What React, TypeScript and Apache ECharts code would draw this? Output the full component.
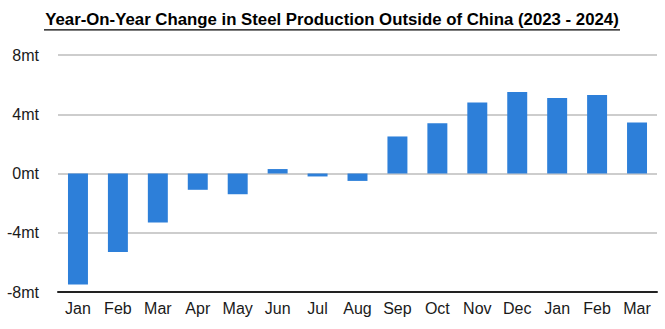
import React, { useEffect, useRef } from "react";
import * as echarts from "echarts";

const categories = ["Jan", "Feb", "Mar", "Apr", "May", "Jun", "Jul", "Aug", "Sep", "Oct", "Nov", "Dec", "Jan", "Feb", "Mar"];
const changeMt = [-7.5, -5.3, -3.3, -1.1, -1.4, 0.3, -0.2, -0.5, 2.5, 3.4, 4.8, 5.5, 5.1, 5.3, 3.45];
const titleText = "Year-On-Year Change in Steel Production Outside of China (2023 - 2024)";

export default function App() {
  const ref = useRef<HTMLDivElement>(null);
  useEffect(() => {
    if (!ref.current) return;
    const chart = echarts.init(ref.current, null, { renderer: "svg" });
    chart.setOption({
      animation: false,
      backgroundColor: "#ffffff",
      textStyle: { fontFamily: "Liberation Sans, Arial, sans-serif" },
      graphic: [
        {
          type: "text",
          x: 332,
          y: 10.5,
          style: {
            text: titleText,
            font: "bold 16.8px 'Liberation Sans', Arial, sans-serif",
            fill: "#000",
            align: "center",
            verticalAlign: "top",
          },
        },
        {
          type: "line",
          shape: { x1: 44, y1: 29.8, x2: 620, y2: 29.8 },
          style: { stroke: "#000", lineWidth: 1.3 },
        },
      ],
      grid: { left: 58, right: 8, top: 55, bottom: 37, containLabel: false },
      xAxis: {
        type: "category",
        data: categories,
        axisLine: { onZero: false, lineStyle: { color: "#222", width: 2 } },
        axisTick: { show: false },
        axisLabel: { color: "#1a1a1a", fontSize: 16, margin: 8 },
      },
      yAxis: {
        type: "value",
        min: -8,
        max: 8,
        interval: 4,
        axisLine: { show: false },
        axisTick: { show: false },
        splitLine: { lineStyle: { color: "#bdbdbd", width: 1.5 } },
        axisLabel: { color: "#1a1a1a", fontSize: 16, margin: 19, formatter: (v: number) => `${v}mt` },
      },
      series: [
        {
          type: "bar",
          data: changeMt,
          barWidth: "50%",
          itemStyle: { color: "#2d7fd9" },
        },
      ],
    });
    return () => chart.dispose();
  }, []);
  return <div ref={ref} style={{ width: 665, height: 329, position: "absolute", left: 0, top: 0 }} />;
}
